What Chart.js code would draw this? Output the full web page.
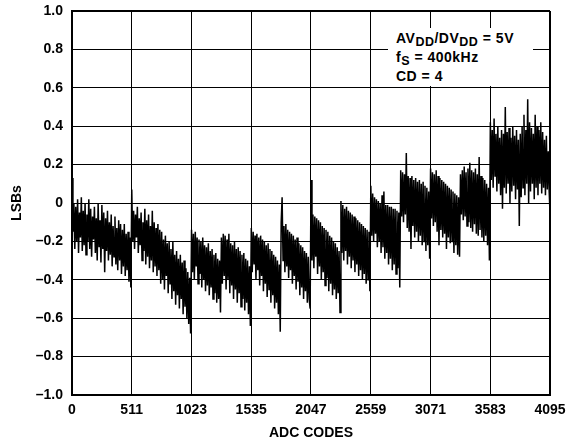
<!DOCTYPE html>
<html>
<head>
<meta charset="utf-8">
<script src="https://cdn.jsdelivr.net/npm/chart.js@4/dist/chart.umd.min.js"></script>
<style>
html,body{margin:0;padding:0;background:#fff;}
#wrap{position:relative;width:568px;height:445px;}
#note{position:absolute;left:388px;top:28px;width:145px;height:58px;background:#fff;
  font:bold 14px "Liberation Sans",Arial,sans-serif;line-height:19px;color:#000;letter-spacing:0.5px;
  padding:1px 0 0 8px;box-sizing:border-box;white-space:nowrap;}
#note sub{font-size:12.5px;vertical-align:-3px;line-height:0;}
</style>
</head>
<body>
<div id="wrap">
<canvas id="c" width="568" height="445"></canvas>
<div id="note">AV<sub>DD</sub>/DV<sub>DD</sub> = 5V<br>f<sub>S</sub> = 400kHz<br>CD = 4</div>
</div>
<script>
// INL in LSBs, one reading every 8 codes; two rows per 256 codes; last value at code 4095
const inlLSB = [
  0.13,-0.15,0.0,-0.24,-0.02,-0.2,0.02,-0.26,-0.05,-0.18,0.03,-0.25,-0.04,-0.22,0.0,-0.27,
  -0.06,-0.2,0.02,-0.24,-0.03,-0.28,-0.07,-0.19,-0.02,-0.26,-0.08,-0.3,0.0,-0.23,-0.09,-0.31,
  -0.01,-0.24,-0.05,-0.36,-0.08,-0.25,-0.04,-0.3,-0.1,-0.27,-0.06,-0.33,-0.12,-0.28,-0.07,-0.32,
  -0.13,-0.35,-0.09,-0.3,-0.11,-0.37,-0.14,-0.33,-0.11,-0.38,-0.16,-0.35,-0.15,-0.41,-0.18,-0.44,
  0.07,-0.2,-0.04,-0.24,-0.06,-0.18,-0.02,-0.26,-0.08,-0.22,-0.05,-0.3,-0.1,-0.25,-0.03,-0.32,
  -0.09,-0.28,-0.06,-0.34,-0.12,-0.3,-0.04,-0.36,-0.1,-0.33,-0.13,-0.38,-0.11,-0.35,-0.14,-0.42,
  -0.15,-0.4,-0.19,-0.45,-0.17,-0.38,-0.21,-0.47,-0.2,-0.42,-0.24,-0.5,-0.2,-0.46,-0.27,-0.53,
  -0.25,-0.48,-0.29,-0.55,-0.27,-0.5,-0.31,-0.58,-0.3,-0.54,-0.34,-0.6,-0.36,-0.63,-0.39,-0.68,
  -0.14,-0.36,-0.16,-0.4,-0.15,-0.33,-0.18,-0.42,-0.19,-0.37,-0.2,-0.44,-0.18,-0.4,-0.22,-0.46,
  -0.23,-0.43,-0.21,-0.48,-0.25,-0.44,-0.24,-0.5,-0.27,-0.47,-0.26,-0.52,-0.29,-0.5,-0.3,-0.57,
  -0.18,-0.42,-0.16,-0.38,-0.17,-0.45,-0.19,-0.4,-0.16,-0.47,-0.21,-0.43,-0.22,-0.5,-0.2,-0.45,
  -0.24,-0.52,-0.23,-0.47,-0.25,-0.54,-0.27,-0.5,-0.26,-0.56,-0.29,-0.52,-0.3,-0.58,-0.33,-0.64,
  -0.13,-0.36,-0.15,-0.32,-0.17,-0.4,-0.16,-0.35,-0.18,-0.43,-0.17,-0.38,-0.19,-0.46,-0.2,-0.42,
  -0.22,-0.49,-0.21,-0.45,-0.24,-0.52,-0.25,-0.48,-0.27,-0.55,-0.28,-0.52,-0.3,-0.58,-0.32,-0.67,
  -0.1,0.03,-0.3,-0.12,-0.36,-0.11,-0.33,-0.14,-0.39,-0.15,-0.35,-0.16,-0.42,-0.17,-0.38,-0.19,
  -0.45,-0.18,-0.41,-0.21,-0.48,-0.22,-0.44,-0.23,-0.5,-0.25,-0.46,-0.26,-0.52,-0.28,-0.5,-0.55,
  0.12,-0.3,-0.06,-0.34,-0.07,-0.28,-0.08,-0.37,-0.09,-0.33,-0.1,-0.4,-0.12,-0.36,-0.13,-0.43,
  -0.14,-0.39,-0.15,-0.46,-0.17,-0.42,-0.18,-0.48,-0.2,-0.45,-0.21,-0.5,-0.23,-0.47,-0.25,-0.57,
  0.01,-0.26,-0.01,-0.3,-0.03,-0.25,-0.02,-0.32,-0.04,-0.28,-0.05,-0.34,-0.06,-0.3,-0.07,-0.36,
  -0.08,-0.32,-0.09,-0.38,-0.1,-0.35,-0.11,-0.4,-0.12,-0.37,-0.13,-0.42,-0.14,-0.4,-0.15,-0.46,
  0.09,-0.17,0.05,-0.2,0.03,-0.16,0.02,-0.23,0.01,-0.2,0.0,-0.26,0.04,-0.23,0.06,-0.29,
  -0.01,-0.26,-0.01,-0.32,-0.02,-0.29,-0.02,-0.35,-0.03,-0.32,-0.03,-0.37,-0.04,-0.34,-0.05,-0.44,
  0.17,-0.07,0.16,-0.1,0.15,-0.06,0.26,-0.13,0.14,-0.15,0.13,-0.24,0.14,-0.12,0.12,-0.18,
  0.13,-0.15,0.11,-0.2,0.12,-0.17,0.1,-0.22,0.11,-0.2,0.09,-0.25,0.08,-0.22,0.06,-0.29,
  0.18,-0.08,0.16,-0.12,0.15,-0.1,0.17,-0.15,0.14,-0.22,0.13,-0.14,0.12,-0.18,0.11,-0.16,
  0.1,-0.24,0.09,-0.18,0.08,-0.21,0.07,-0.2,0.06,-0.26,0.05,-0.22,0.04,-0.27,0.03,-0.28,
  0.15,-0.06,0.17,-0.09,0.19,-0.07,0.16,-0.12,0.18,-0.1,0.21,-0.13,0.17,-0.15,0.16,-0.11,
  0.18,-0.16,0.15,-0.17,0.24,-0.14,0.14,-0.18,0.13,-0.2,0.12,-0.17,0.1,-0.22,0.08,-0.3,
  0.42,0.12,0.38,0.08,0.44,0.14,0.36,0.06,0.4,0.1,0.34,0.04,0.38,-0.03,0.36,0.08,
  0.5,0.05,0.37,0.1,0.39,0.0,0.34,0.06,0.4,0.09,0.35,0.02,0.38,0.07,0.33,-0.12,
  0.36,0.03,0.4,0.08,0.46,0.04,0.38,0.1,0.54,0.0,0.42,0.06,0.39,0.1,0.36,0.02,
  0.46,0.08,0.4,0.04,0.38,0.1,0.42,0.05,0.37,0.08,0.33,0.04,0.35,0.07,0.27,0.06,
  -0.05
];
// ADC code of each reading
const adcCodes = inlLSB.map((_, i) => Math.min(i * 8, 4095));

const xTickValues = [0, 511, 1023, 1535, 2047, 2559, 3071, 3583, 4095];
const yTickValues = [-1.0, -0.8, -0.6, -0.4, -0.2, 0, 0.2, 0.4, 0.6, 0.8, 1.0];
const yTickLabels = ['\u20131.0','\u20130.8','\u20130.6','\u20130.4','\u20130.2','0','0.2','0.4','0.6','0.8','1.0'];

const font = {family: '"Liberation Sans", Arial, sans-serif', size: 14, weight: 'bold'};

new Chart(document.getElementById('c'), {
  type: 'line',
  data: {
    datasets: [{
      data: adcCodes.map((x, i) => ({x: x, y: inlLSB[i]})),
      borderColor: '#000',
      borderWidth: 1.5,
      pointRadius: 0,
      tension: 0,
      fill: false
    }]
  },
  options: {
    responsive: false,
    animation: false,
    events: [],
    layout: {autoPadding: false, padding: {left: 0, right: 18, top: 11, bottom: 0}},
    plugins: {legend: {display: false}, tooltip: {enabled: false}},
    scales: {
      x: {
        type: 'linear', min: 0, max: 4095,
        afterBuildTicks: s => { s.ticks = xTickValues.map(v => ({value: v})); },
        afterFit: s => { s.height = 50; s.paddingLeft = 0; s.paddingRight = 0; },
        ticks: {callback: v => String(v), font: font, color: '#000', padding: 7, maxRotation: 0, autoSkip: false},
        grid: {color: '#000', lineWidth: c => (c.tick && c.tick.value === 4095 ? 2 : 1), drawTicks: false},
        border: {color: '#000', width: 2},
        title: {display: true, text: 'ADC CODES', font: font, color: '#000', padding: {top: 0, bottom: 3}}
      },
      y: {
        type: 'linear', min: -1, max: 1,
        afterBuildTicks: s => { s.ticks = yTickValues.map(v => ({value: v})); },
        afterFit: s => { s.width = 72; s.paddingTop = 0; s.paddingBottom = 0; },
        ticks: {callback: (v, i) => yTickLabels[i], font: font, color: '#000', padding: 9, autoSkip: false},
        grid: {color: '#000', lineWidth: c => (c.tick && c.tick.value === 1 ? 2 : 1), drawTicks: false},
        border: {color: '#000', width: 2},
        title: {display: true, text: 'LSBs', font: font, color: '#000', padding: {top: 9, bottom: 0}}
      }
    }
  }
});
</script>
</body>
</html>
